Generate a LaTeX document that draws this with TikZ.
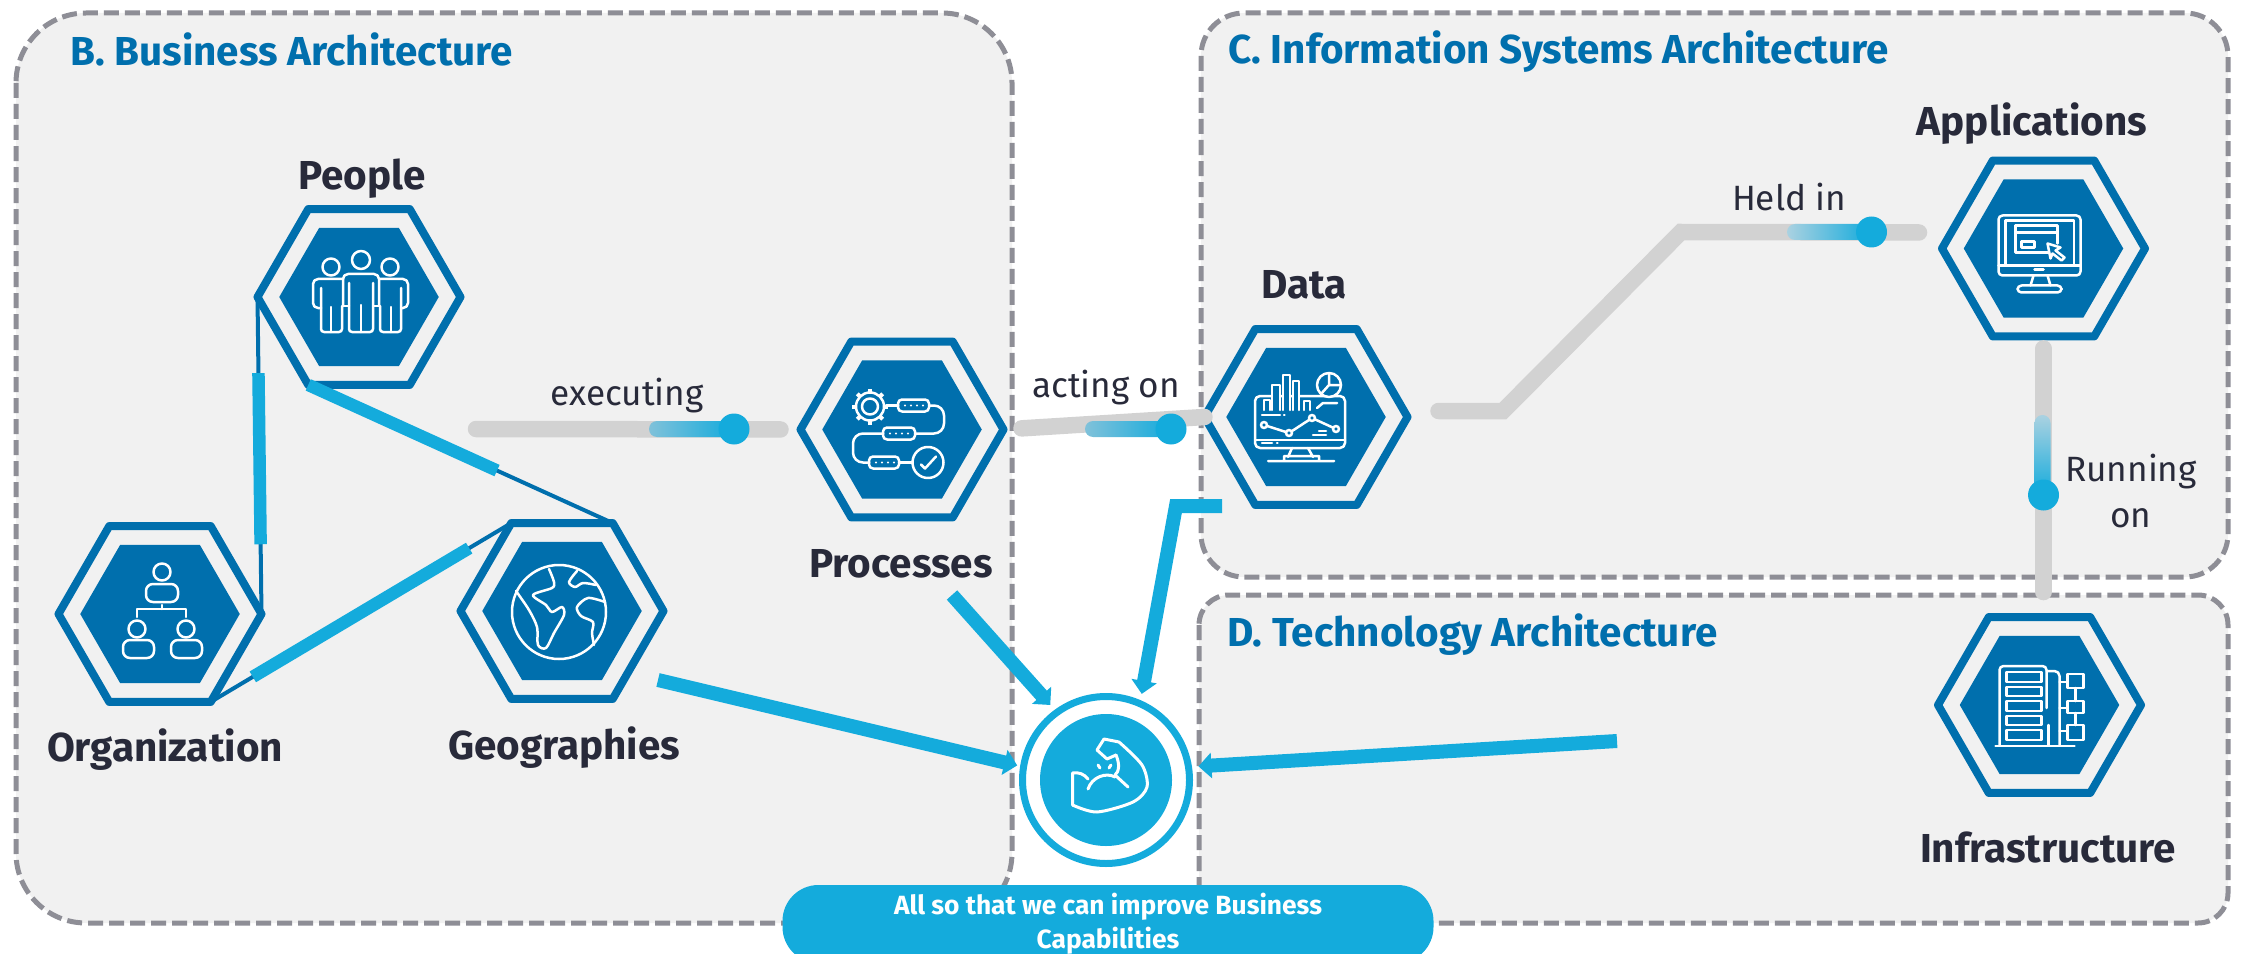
\documentclass[tikz,border=0pt]{standalone}
\usepackage{fontspec}
\setmainfont{Fira Sans}
\usetikzlibrary{arrows.meta, calc, shapes.geometric}

\definecolor{deepblue}{HTML}{006FAD}
\definecolor{skyblue}{HTML}{14ABDC}
\definecolor{fadeblue}{HTML}{8CC4DA}
\definecolor{panelgray}{HTML}{F1F1F1}
\definecolor{dashgray}{HTML}{8E8E96}
\definecolor{trackgray}{HTML}{D2D2D2}
\definecolor{inkdark}{HTML}{282A3A}

\tikzset{
  panel/.style={fill=panelgray,draw=dashgray,line width=1mm,dash pattern=on 3mm off 1.2mm},
  panelname/.style={font=\fontsize{23}{26}\selectfont\bfseries,text=deepblue,inner sep=0pt},
  hexname/.style={font=\fontsize{23}{26}\selectfont\bfseries,text=inkdark,inner sep=0pt},
  linkname/.style={font=\fontsize{20}{26}\selectfont,text=inkdark,inner sep=0pt},
  hexout/.style={regular polygon,regular polygon sides=6,minimum size=40.6mm,draw=deepblue,
    line width=1.6mm,fill=panelgray,inner sep=0pt,outer sep=0pt,line join=round},
  hexin/.style={regular polygon,regular polygon sides=6,minimum size=31.9mm,fill=deepblue,
    inner sep=0pt,outer sep=0pt},
  tie/.style={draw=deepblue,line width=.8mm},
  tiebar/.style={draw=skyblue,line width=2.5mm},
  track/.style={draw=trackgray,line width=3.3mm,line cap=round,line join=miter},
  slider/.style={circle,fill=skyblue,minimum size=6.2mm,inner sep=0pt,outer sep=0pt},
  reach/.style={draw=skyblue,line width=2.8mm,-{Triangle[length=2.6mm,width=5mm]},shorten >=2mm},
  ring/.style={circle,draw=skyblue,line width=1.4mm,fill=white,minimum size=33.4mm,inner sep=0pt,outer sep=0pt},
  ringin/.style={circle,fill=skyblue,minimum size=26.4mm,inner sep=0pt,outer sep=0pt},
  pill/.style={fill=skyblue,text=white,minimum width=130.2mm,minimum height=15.6mm,rounded corners=7.2mm,
    align=center,inner sep=0pt,font=\fontsize{15}{19.4}\selectfont\bfseries},
  icon/.style={draw=white,line width=.5mm,line cap=round,line join=round},
  pics/peopleicon/.style={code={
    \draw[icon] (2,-37) circle (9) (-28,-30) circle (8.5) (31,-30) circle (8.5);
    \draw[icon,rounded corners=1mm] (-16,9) -- (-16,-23) -- (20,-23) -- (20,9);
    \draw[icon,rounded corners=.6mm] (-10,-14) -- (-10,35) -- (14,35) -- (14,-14);
    \draw[icon] (2,8) -- (2,35) (-16,9) -- (-10,9) (14,9) -- (20,9);
    \draw[icon,rounded corners=1mm] (-16,-18) -- (-46,-18) -- (-46,11) -- (-38,11);
    \draw[icon,rounded corners=.6mm] (-38,-9) -- (-38,35) -- (-17,35) -- (-17,9);
    \draw[icon] (-28,10) -- (-28,35);
    \draw[icon,rounded corners=1mm] (20,-18) -- (49,-18) -- (49,11) -- (42,11);
    \draw[icon,rounded corners=.6mm] (42,-9) -- (42,35) -- (21,35) -- (21,9);
    \draw[icon] (32,10) -- (32,35);
  }},
  pics/orgicon/.style={code={
    \draw[icon] (2,-42) circle (8.5) (-23,15) circle (8.5) (26,15) circle (8.5);
    \draw[icon,rounded corners=1.4mm] (-14,-12) -- (-14,-30) -- (18,-30) -- (18,-12) -- cycle;
    \draw[icon,rounded corners=1.4mm] (-37,44) -- (-37,26) -- (-6,26) -- (-6,44) -- cycle;
    \draw[icon,rounded corners=1.4mm] (11,44) -- (11,26) -- (42,26) -- (42,44) -- cycle;
    \draw[icon] (2,-9) -- (2,-5) (-23,3) -- (-23,-5) -- (26,-5) -- (26,3);
  }},
  pics/globeicon/.style={code={
    \draw[icon] (-3,1) circle (47);
    \draw[icon] plot[smooth] coordinates {(-13,-42) (-8,-29) (-10,-23) (-29,-16) (-16,-6) (-10,1) (0,-4) (2,4) (-8,22) (-16,37) (-24,34) (-25,16) (-33,-1) (-46,-20)};
    \draw[icon] plot[smooth] coordinates {(15,-40) (7,-29) (13,-24) (21,-28) (34,-26)};
    \draw[icon] plot[smooth] coordinates {(43,-9) (26,-13) (15,-4) (19,5) (31,11) (30,22) (32,34)};
  }},
  pics/flowicon/.style={code={
    \draw[icon] (-32,-23) circle (8) (-32,-23) circle (14);
    \foreach \a in {0,45,...,315} \draw[icon,line width=.8mm,line cap=butt] ($(-32,-23)+(\a:14)$) -- ($(-32,-23)+(\a:18)$);
    \draw[icon,rounded corners=.8mm] (-4,-30) rectangle (27,-18);
    \draw[icon,rounded corners=.8mm] (-19,-2) rectangle (13,10);
    \draw[icon,rounded corners=.8mm] (-33,27) rectangle (-3,39);
    \draw[icon] (26,33) circle (15.5);
    \draw[icon] (19,35) -- (23,39) -- (34,27);
    \draw[icon] (-16,-24) -- (-4,-24) (-3,33) -- (10,33);
    \draw[icon,rounded corners=2mm] (27,-24) -- (42,-24) -- (42,4) -- (13,4);
    \draw[icon,rounded corners=2mm] (-19,4) -- (-49,4) -- (-49,33) -- (-33,33);
    \foreach \c in {(3,-24),(9,-24),(15,-24),(21,-24),(-12,4),(-6,4),(0,4),(6,4),(-26,33),(-20,33),(-14,33),(-8,33)}
      \fill[white] \c circle (1.2);
  }},
  pics/charticon/.style={code={
    \draw[icon,rounded corners=1mm] (-51,-21) rectangle (39,31);
    \draw[icon] (-51,23) -- (39,23);
    \draw[icon] (-14,31) -- (-18,40) (2,31) -- (7,40) (-22,44) -- (-22,39) -- (13,39) -- (13,44) (-38,44) -- (28,44);
    \draw[icon,fill=deepblue] (-42,-7) -- (-42,-17) -- (-36,-17) -- (-36,-7);
    \draw[icon,fill=deepblue] (-34,-7) -- (-34,-32) -- (-26,-32) -- (-26,-7);
    \draw[icon,fill=deepblue] (-23,-7) -- (-23,-42) -- (-16,-42) -- (-16,-7);
    \draw[icon,fill=deepblue] (-13,-7) -- (-13,-36) -- (-7,-36) -- (-7,-7);
    \draw[icon,fill=deepblue] (-2,-7) -- (-2,-16) -- (4,-16) -- (4,-7);
    \draw[icon,fill=deepblue] (23,-32) circle (12);
    \draw[icon] (23,-44) -- (23,-32) -- (35,-32) (23,-32) -- (15,-23);
    \draw[icon] (11,-9) -- (17,-14) -- (31,-14);
    \draw[icon] (-44,-2) -- (-26,-2) (-22,-2) -- (-21.5,-2);
    \draw[icon] (-42,8) -- (-17,16) -- (6,1) -- (30,12);
    \foreach \c in {(-42,8),(-17,16),(6,1),(30,12)} \draw[icon,fill=deepblue] \c circle (3);
    \draw[icon] (13,14) -- (20,14) (7,18) -- (20,18) (-44,26) -- (-34,26) (-29,26) -- (-28.5,26);
  }},
  pics/screenicon/.style={code={
    \draw[icon,rounded corners=.8mm] (-45,-33) rectangle (37,27);
    \draw[icon] (-38,17) -- (-38,-28) -- (30.5,-28) -- (30.5,17);
    \draw[icon] (-45,17) -- (37,17) (-9,21) -- (0,21);
    \draw[icon] (-10,27) -- (-13,37) (4,27) -- (7,37);
    \draw[icon,rounded corners=.8mm] (-26,37) rectangle (18,44);
    \draw[icon] (-28,4) -- (-28,-23) -- (14,-23) -- (14,-5) (-28,4) -- (6,4) (-28,-16) -- (14,-16);
    \draw[icon] (-22,-7) rectangle (-9,-1);
    \draw[icon,fill=deepblue] (4,-5) -- (17,-1) -- (12,2) -- (21,9) -- (18,12) -- (9,5) -- (7,10) -- cycle;
  }},
  pics/rackicon/.style={code={
    \draw[icon,rounded corners=.8mm] (-40,40) -- (-40,-39) -- (7,-39) -- (7,3);
    \draw[icon] (-44,41) -- (35,41) (9,20) -- (9,40);
    \foreach \t/\b in {-33/-23,-18/-9,-4/6,11/20,25/35} \draw[icon] (-33,\t) rectangle (2,\b);
    \draw[icon,rounded corners=1mm] (7,-34) -- (20,-34) -- (20,40);
    \draw[icon] (28,-31) rectangle (44,-17) (28,-4) rectangle (44,8) (28,20) rectangle (44,35);
    \draw[icon] (36,-17) -- (36,-4) (36,8) -- (36,20) (20,-23) -- (28,-23) (20,3) -- (28,3) (20,26) -- (28,26);
  }},
  pics/armicon/.style={code={
    \draw[icon,line width=.6mm] plot[smooth,tension=.5] coordinates {(-33.5,25) (-9,32) (27,22) (41,7) (36,-15) (13,-38)} -- (-2,-41) -- (-9,-30) -- (1,-21) -- (10,-25);
    \draw[icon,line width=.6mm] (10,-25) .. controls (14,-16) and (13,-8) .. (9,-5) -- (22,7);
    \draw[icon,line width=.6mm] (-33.5,25) -- (-33.5,-7) .. controls (-27,-8) and (-22,-6) .. (-18,-1);
    \draw[icon,line width=.6mm] (-18,9) .. controls (-14,-3) and (0,-8) .. (9,-3);
    \draw[icon,line width=.6mm] (-8,-15) -- (-6,-12) (5,-15) -- (3,-12);
  }},
}

\begin{document}
\begin{tikzpicture}[x=.2mm,y=-.2mm]
\useasboundingbox (0,0) rectangle (2244,954);
% Panels
\draw[panel,rounded corners=14mm] (16,13) rectangle (1012,923);
\draw[panel,rounded corners=8.6mm] (1201,13) rectangle (2228,577);
\draw[panel,rounded corners=6mm] (1199,595) rectangle (2228,923);
\node[panelname,anchor=west] (bname) at (70,49) {B. Business Architecture};
\node[panelname,anchor=west] (cname) at (1228,52) {C. Information Systems Architecture};
\node[panelname,anchor=west] (dname) at (1227,635) {D. Technology Architecture};
% Hexagons
\node[hexout] (people) at (359,297) {};
\node[hexin] (peoplein) at (people) {};
\node[hexout] (org) at (160,614) {};
\node[hexin] (orgin) at (org) {};
\node[hexout] (geo) at (562,611) {};
\node[hexin] (geoin) at (geo) {};
\node[hexout] (processes) at (902,429.5) {};
\node[hexin] (processesin) at (processes) {};
\node[hexout] (data) at (1306,417) {};
\node[hexin] (datain) at (data) {};
\node[hexout] (apps) at (2043.5,248.5) {};
\node[hexin] (appsin) at (apps) {};
\node[hexout] (infra) at (2039.5,705) {};
\node[hexin] (infrain) at (infra) {};
% Icons
\pic at (people) {peopleicon};
\pic at (org) {orgicon};
\pic at (geo) {globeicon};
\pic at (processes) {flowicon};
\pic at (data) {charticon};
\pic at (apps) {screenicon};
\pic at (infra) {rackicon};
% Hexagon names
\node[hexname] (peoplename) at (362,179) {People};
\node[hexname] (orgname) at (165,750) {Organization};
\node[hexname] (geoname) at (564,748) {Geographies};
\node[hexname] (processesname) at (901,564) {Processes};
\node[hexname] (dataname) at (1304,285) {Data};
\node[hexname] (appsname) at (2032,124) {Applications};
\node[hexname] (infraname) at (2048,847) {Infrastructure};
% Ties in the triangle
\draw[tie] (people.corner 3) -- (org.corner 6);
\draw[tie] (people.corner 4) -- (geo.corner 1);
\draw[tie] (org.corner 5) -- (geo.corner 2);
\draw[tiebar] ($(people.corner 3)!.24!(org.corner 6)$) -- ($(people.corner 3)!.78!(org.corner 6)$);
\draw[tiebar] (people.corner 4) -- ($(people.corner 4)!.62!(geo.corner 1)$);
\draw[tiebar] ($(org.corner 5)!.14!(geo.corner 2)$) -- ($(org.corner 5)!.86!(geo.corner 2)$);
% Grey tracks
\coordinate (execstart) at (476,429);
\coordinate (heldbendA) at (1503,411);
\coordinate (heldbendB) at (1681,232);
\draw[track,shorten >=20mm-16mm] (execstart) -- (processes.west);
\draw[track,shorten <=3.6mm] (processes.east) -- (data.west);
\draw[track] ($(data.east)+(31,-6)$) -- (heldbendA) -- (heldbendB) -- ($(apps.west)+(-23,-16)$);
\draw[track,shorten <=2.4mm,shorten >=5mm] (apps.south) -- (apps.south |- infra.north);
% Slider fills and dots
\shade[left color=fadeblue!90!skyblue,right color=skyblue,rounded corners=1.6mm] (649,421) rectangle (734,437);
\shade[left color=fadeblue!90!skyblue,right color=skyblue,rounded corners=1.6mm] (1085,421) rectangle (1171,437);
\shade[left color=fadeblue!70!panelgray,right color=skyblue,rounded corners=1.6mm] (1787,224) rectangle (1871,240);
\shade[top color=fadeblue!70!panelgray,bottom color=skyblue,rounded corners=1.6mm] (2034.5,415) rectangle (2050.5,495);
\node[slider] (execdot) at (734,429) {};
\node[slider] (actdot) at (1171,429) {};
\node[slider] (helddot) at (1871.5,232) {};
\node[slider] (rundot) at (2043.5,495) {};
% Link names
\node[linkname] (execname) at (627,396) {executing};
\node[linkname] (actname) at (1106,388) {acting on};
\node[linkname] (heldname) at (1789,197) {Held in};
\node[linkname,align=center] (runname) at (2131,491) {Running\\on};
% Centre circle
\node[ring] (caps) at (1106,780) {};
\node[ringin] (capsin) at (caps) {};
\pic at (caps) {armicon};
% Arrows to the centre
\coordinate (geoout) at (658,680);
\coordinate (processesout) at (952,595);
\coordinate (dataout) at (1222,506);
\coordinate (databend) at (1176,506);
\coordinate (infraout) at (1617,741);
\draw[reach,shorten >=1.3mm] (geoout) -- (caps.171.6);
\draw[reach] (processesout) -- (caps.126);
\draw[reach] (dataout) -- (databend) -- (caps.66.7);
\draw[reach] (infraout) -- (caps.9.8);
% Bottom banner
\node[pill] (goal) at (1108,924) {All so that we can improve Business\\Capabilities};
\end{tikzpicture}
\end{document}
